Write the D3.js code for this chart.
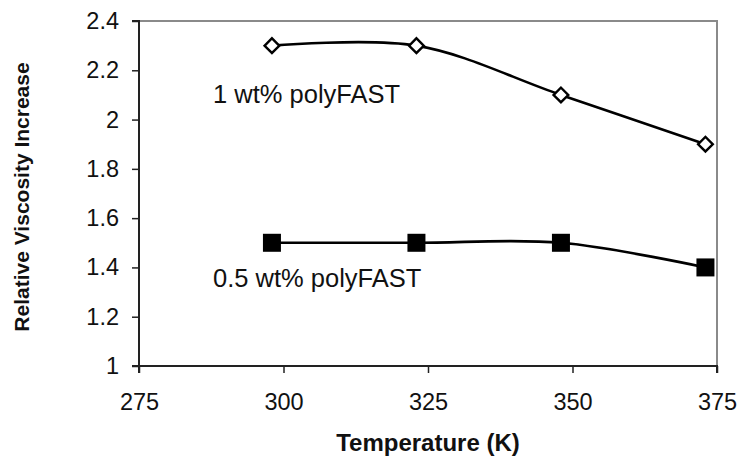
<!DOCTYPE html>
<html>
<head>
<meta charset="utf-8">
<script src="https://cdn.jsdelivr.net/npm/d3@7"></script>
<style>
  body { margin: 0; background: #fff; }
  text { font-family: "Liberation Sans", Arial, sans-serif; }
</style>
</head>
<body>
<svg></svg>
<script>
var temps = [298, 323, 348, 373];
var visc1 = [2.3, 2.3, 2.1, 1.9];     // 1 wt% polyFAST
var visc05 = [1.5, 1.5, 1.5, 1.4];    // 0.5 wt% polyFAST
var xTicks = [275, 300, 325, 350, 375];
var yTicks = [1, 1.2, 1.4, 1.6, 1.8, 2, 2.2, 2.4];

var width = 740, height = 461;
var margin = {left:139, right:23, top:21, bottom:95};
var w = width - margin.left - margin.right;
var h = height - margin.top - margin.bottom;

var svg = d3.select("svg").attr("width", width).attr("height", height);

var x = d3.scaleLinear().domain([275, 375]).range([0, w]);
var y = d3.scaleLinear().domain([1, 2.4]).range([h, 0]);

var g = svg.append("g")
  .attr("transform", "translate(" + margin.left + "," + margin.top + ")");

// frame top / right in grey
g.append("path")
  .attr("d", "M0,0H" + w + "V" + h)
  .attr("fill", "none")
  .attr("stroke", "#8a8a8a")
  .attr("stroke-width", 2);

var xAxis = d3.axisBottom(x).tickValues(xTicks).tickSize(7).tickPadding(20)
  .tickFormat(d3.format("d"));
var yAxis = d3.axisLeft(y).tickValues(yTicks).tickSize(7).tickPadding(13)
  .tickFormat(function(d){ return d3.format("")(+d.toFixed(1)); });

var gx = g.append("g").attr("transform", "translate(0," + h + ")").call(xAxis);
var gy = g.append("g").call(yAxis);
[gx, gy].forEach(function(a){
  a.select(".domain").attr("stroke", "#222").attr("stroke-width", 2);
  a.selectAll(".tick line").attr("stroke", "#222").attr("stroke-width", 1.5);
  a.selectAll(".tick text").attr("font-size", 23.5).attr("fill", "#111")
    .style("font-family", "Liberation Sans, Arial, sans-serif");
});
gy.select(".domain").attr("d", "M-7," + h + "H0V0H-7");
gx.select(".domain").attr("d", "M0,7V0H" + w + "V7");

var line = d3.line()
  .x(function(d){ return x(d[0]); })
  .y(function(d){ return y(d[1]); })
  .curve(d3.curveCatmullRom);

var s1 = temps.map(function(t, i){ return [t, visc1[i]]; });
var s2 = temps.map(function(t, i){ return [t, visc05[i]]; });

g.append("path").attr("d", line(s1)).attr("fill", "none")
  .attr("stroke", "#000").attr("stroke-width", 2.6);
g.append("path").attr("d", line(s2)).attr("fill", "none")
  .attr("stroke", "#000").attr("stroke-width", 2.6);

g.selectAll(".dia").data(s1).enter().append("path")
  .attr("transform", function(d){ return "translate(" + x(d[0]) + "," + y(d[1]) + ") rotate(45)"; })
  .attr("d", "M-5.2,-5.2H5.2V5.2H-5.2Z")
  .attr("fill", "#fff").attr("stroke", "#000").attr("stroke-width", 2.4);

g.selectAll(".sq").data(s2).enter().append("rect")
  .attr("x", function(d){ return x(d[0]) - 9; })
  .attr("y", function(d){ return y(d[1]) - 9; })
  .attr("width", 18).attr("height", 18)
  .attr("fill", "#000");

g.append("text").attr("x", 213 - margin.left).attr("y", 103 - margin.top)
  .attr("font-size", 25.5).attr("fill", "#111").text("1 wt% polyFAST");
g.append("text").attr("x", 213 - margin.left).attr("y", 287 - margin.top)
  .attr("font-size", 25.5).attr("fill", "#111").text("0.5 wt% polyFAST");

svg.append("text")
  .attr("x", 428).attr("y", 451)
  .attr("text-anchor", "middle").attr("font-size", 24).attr("font-weight", "bold")
  .attr("fill", "#111").text("Temperature (K)");

svg.append("text")
  .attr("transform", "translate(29,197) rotate(-90)")
  .attr("text-anchor", "middle").attr("font-size", 21).attr("font-weight", "bold")
  .attr("fill", "#111").text("Relative Viscosity Increase");
</script>
</body>
</html>
